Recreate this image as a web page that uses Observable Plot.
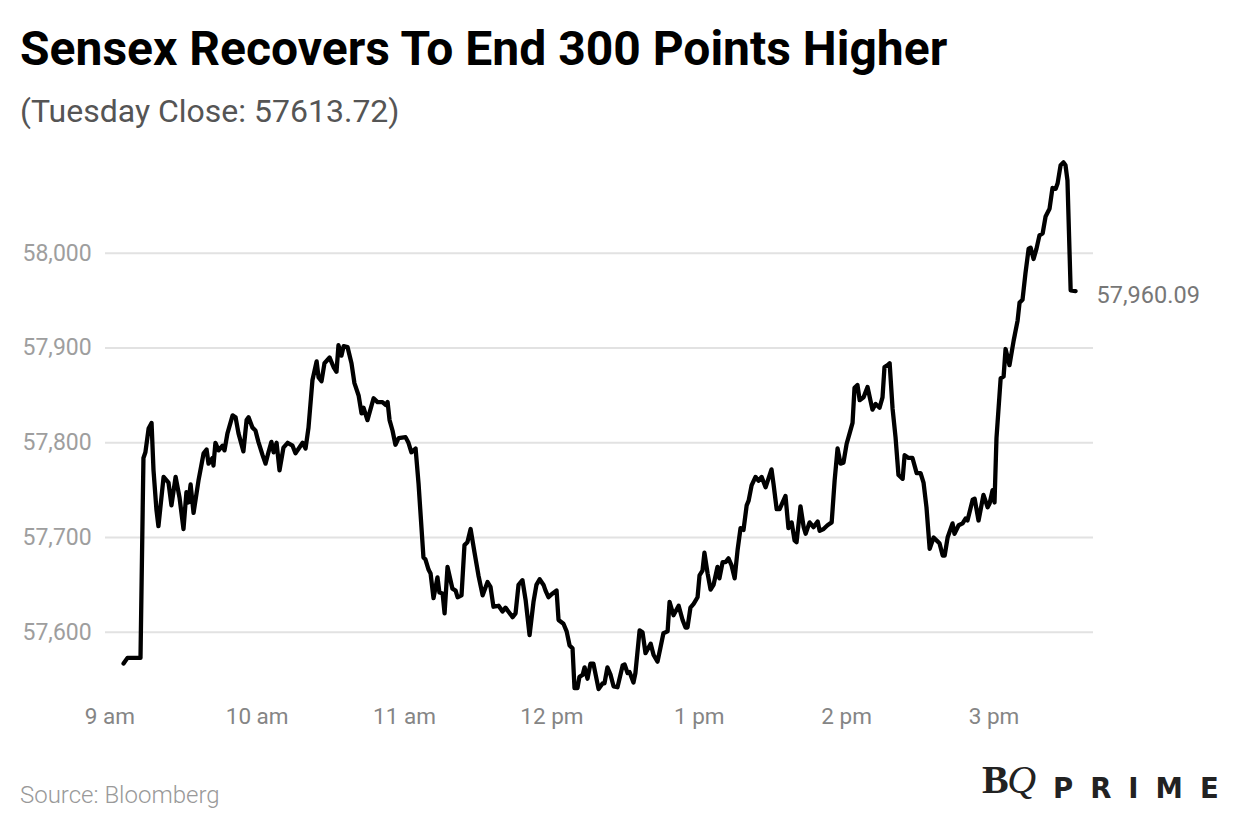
<!DOCTYPE html>
<html>
<head>
<meta charset="utf-8">
<script src="https://cdn.jsdelivr.net/npm/d3@7"></script>
<script src="https://cdn.jsdelivr.net/npm/@observablehq/plot@0.6"></script>
<style>
  html, body { margin: 0; padding: 0; background: #fff; width: 1240px; height: 840px; overflow: hidden; }
  body { position: relative; font-family: Roboto, "Open Sans", sans-serif; }
  #title { position: absolute; left: 20px; top: 25px; font-size: 48px; font-weight: 700; color: #000; line-height: 1; white-space: nowrap; }
  #subtitle { position: absolute; left: 20px; top: 95px; font-size: 32px; font-weight: 400; color: #555; line-height: 1; white-space: nowrap; }
  #chart { position: absolute; left: 0; top: 150px; }
  #source { position: absolute; left: 20px; top: 783px; font-size: 24px; font-weight: 300; color: #999; line-height: 1; white-space: nowrap; }
  .logo { position: absolute; line-height: 1; white-space: nowrap; color: #222; }
  #bq { left: 982px; top: 760px; font-family: "Liberation Serif", "DejaVu Serif", serif; font-size: 40px; font-weight: 700; letter-spacing: -1.5px; }
  #bq i { font-style: italic; font-weight: 400; }
  #prime { left: 1053px; top: 775px; font-family: "DejaVu Sans", sans-serif; font-size: 27.5px; font-weight: 700; letter-spacing: 17px; }
</style>
</head>
<body>
<div id="title">Sensex Recovers To End 300 Points Higher</div>
<div id="subtitle">(Tuesday Close: 57613.72)</div>
<div id="chart"></div>
<div id="source">Source: Bloomberg</div>
<div id="bq" class="logo">B<i>Q</i></div>
<div id="prime" class="logo">PRIME</div>
<script>
// Minutes after 9:00 am
const minutes = [
  5.6, 7.2, 12.5, 13.7, 14.5, 15.8, 17.0, 17.8, 19.0, 19.8, 21.9, 23.9, 25.1, 26.8, 28.4, 30.0, 31.2, 32.0, 32.9, 34.1,
  36.1, 38.2, 39.4, 40.2, 41.8, 42.2, 43.0, 44.3, 45.9, 46.7, 47.9, 50.0, 51.2, 52.4, 54.4, 55.7, 56.5, 58.1, 59.3, 60.5,
  62.2, 63.4, 64.6, 65.8, 66.7, 67.9, 69.1, 70.7, 72.4, 74.4, 75.6, 77.2, 78.5, 79.7, 80.9, 82.5, 84.2, 85.0, 86.2, 87.4,
  89.5, 91.1, 92.3, 93.1, 94.3, 95.2, 96.8, 98.4, 99.6, 101.3, 102.5, 103.3, 104.9, 107.4, 109.0, 111.0, 112.3, 113.1, 113.9, 115.1,
  116.3, 117.6, 120.4, 121.6, 122.8, 124.5, 125.7, 127.7, 128.5, 129.8, 130.6, 131.8, 133.4, 134.2, 135.5, 136.3, 137.5, 139.5, 140.8, 141.6,
  143.2, 144.4, 145.6, 146.9, 148.5, 150.1, 151.8, 153.8, 155.0, 156.2, 158.3, 159.9, 161.1, 164.0, 165.2, 166.4, 168.0, 169.3, 170.9, 172.5,
  173.7, 175.0, 176.6, 177.4, 178.6, 180.3, 181.9, 182.7, 184.7, 186.0, 187.2, 188.4, 189.2, 190.4, 191.2, 192.5, 193.3, 194.5, 195.7, 196.9,
  199.0, 200.6, 201.4, 202.6, 203.9, 205.1, 206.7, 208.8, 209.6, 210.8, 211.6, 213.2, 214.0, 215.7, 216.9, 218.1, 220.2, 221.4, 223.0, 224.2,
  225.4, 227.1, 227.9, 229.5, 231.6, 233.2, 234.4, 235.2, 236.4, 237.7, 239.3, 240.1, 241.3, 242.1, 243.4, 244.6, 245.8, 247.4, 248.2, 249.5,
  250.7, 251.9, 253.1, 254.4, 255.6, 256.8, 258.0, 259.3, 260.1, 261.3, 262.9, 264.1, 265.4, 267.0, 269.4, 270.2, 271.5, 272.7, 275.1, 276.3,
  277.6, 278.8, 279.6, 281.2, 282.5, 283.3, 284.9, 286.5, 288.2, 289.0, 290.6, 292.2, 293.9, 295.1, 296.3, 297.5, 298.7, 300.0, 301.2, 302.4,
  303.2, 304.4, 305.3, 306.9, 308.5, 310.5, 311.8, 313.4, 314.6, 315.4, 316.7, 317.5, 318.7, 319.9, 321.1, 322.8, 323.6, 325.2, 326.8, 328.5,
  330.1, 331.3, 332.5, 333.8, 335.4, 337.0, 337.8, 339.1, 339.9, 341.1, 343.1, 343.9, 345.6, 347.2, 348.4, 349.2, 351.3, 352.1, 353.7, 355.7,
  357.4, 358.2, 359.4, 360.2, 361.0, 362.7, 363.9, 364.7, 366.3, 368.0, 369.6, 370.4, 371.6, 372.8, 374.1, 374.9, 376.1, 377.3, 378.5, 379.8,
  381.0, 382.6, 383.8, 385.1, 385.9, 387.1, 388.3, 389.1, 389.9, 391.2, 393.2
];
const values = [
  57567, 57573, 57573, 57784, 57790, 57815, 57821, 57771, 57729, 57712, 57764, 57758, 57734, 57764, 57742, 57709, 57748, 57737, 57756, 57726,
  57760, 57789, 57793, 57778, 57784, 57776, 57800, 57792, 57797, 57792, 57810, 57829, 57827, 57810, 57791, 57824, 57827, 57816, 57813, 57801,
  57787, 57778, 57790, 57801, 57790, 57800, 57771, 57795, 57800, 57797, 57789, 57795, 57800, 57794, 57816, 57866, 57886, 57869, 57865, 57884,
  57890, 57880, 57875, 57903, 57892, 57902, 57901, 57884, 57863, 57850, 57831, 57837, 57824, 57847, 57843, 57843, 57840, 57843, 57824, 57813,
  57798, 57805, 57806, 57800, 57790, 57794, 57757, 57679, 57677, 57666, 57662, 57636, 57658, 57642, 57641, 57620, 57669, 57646, 57644, 57637,
  57639, 57692, 57695, 57709, 57684, 57660, 57639, 57653, 57648, 57627, 57628, 57622, 57626, 57616, 57620, 57650, 57655, 57634, 57597, 57632,
  57650, 57656, 57650, 57644, 57637, 57641, 57644, 57613, 57609, 57601, 57586, 57583, 57541, 57541, 57553, 57555, 57563, 57551, 57567, 57567,
  57540, 57546, 57546, 57563, 57555, 57543, 57542, 57565, 57566, 57557, 57558, 57547, 57557, 57602, 57600, 57578, 57588, 57576, 57569, 57584,
  57599, 57601, 57632, 57618, 57628, 57613, 57605, 57605, 57626, 57630, 57637, 57660, 57665, 57684, 57662, 57645, 57650, 57669, 57657, 57674,
  57674, 57678, 57671, 57657, 57687, 57710, 57708, 57734, 57739, 57755, 57764, 57760, 57764, 57753, 57772, 57757, 57730, 57730, 57744, 57710,
  57716, 57697, 57695, 57733, 57711, 57704, 57716, 57711, 57717, 57707, 57709, 57713, 57716, 57760, 57794, 57778, 57779, 57799, 57810, 57821,
  57858, 57861, 57845, 57848, 57859, 57835, 57841, 57837, 57848, 57880, 57882, 57884, 57836, 57806, 57766, 57762, 57787, 57784, 57784, 57768,
  57768, 57758, 57732, 57688, 57700, 57696, 57694, 57681, 57681, 57700, 57715, 57704, 57713, 57715, 57720, 57718, 57740, 57741, 57718, 57745,
  57732, 57736, 57750, 57737, 57805, 57868, 57870, 57899, 57882, 57908, 57929, 57948, 57951, 57979, 58005, 58006, 57994, 58005, 58019, 58021,
  58039, 58047, 58069, 58068, 58074, 58093, 58096, 58093, 58077, 57961, 57960.09
];
const tickHours = [9, 10, 11, 12, 13, 14, 15];
const tickLabels = ["9 am", "10 am", "11 am", "12 pm", "1 pm", "2 pm", "3 pm"];
const yTicks = [57600, 57700, 57800, 57900, 58000];
const closeLabel = "57,960.09";

const base = Date.UTC(2022, 8, 7, 9, 0);
const t = m => new Date(base + m * 60000);
const data = minutes.map((m, i) => ({t: t(m), v: values[i]}));
const last = data[data.length - 1];
const tickDates = tickHours.map(h => t((h - 9) * 60));

const chart = Plot.plot({
  width: 1240,
  height: 590,
  marginLeft: 105,
  marginRight: 147,
  marginTop: 10,
  marginBottom: 40,
  style: {fontFamily: "Roboto, sans-serif", fontSize: "22px", background: "transparent"},
  x: {type: "utc", domain: [t(-1.75), t(400.5)]},
  y: {domain: [57528, 58098]},
  marks: [
    Plot.ruleY(yTicks, {stroke: "#e2e2e2", strokeWidth: 2}),
    Plot.axisY({ticks: yTicks, tickSize: 0, tickPadding: 3, label: null, textAnchor: "start", dx: -80,
      tickFormat: d3.format(","), fill: "#9e9e9e", fontSize: 23}),
    Plot.axisX({ticks: tickDates, tickSize: 0, tickPadding: 8, label: null, fill: "#858585", fontSize: 22.5,
      tickFormat: d => tickLabels[tickHours.indexOf(d.getUTCHours())]}),
    Plot.line(data, {x: "t", y: "v", stroke: "#000", strokeWidth: 4.3, strokeLinejoin: "round"}),
    Plot.text([last], {x: "t", y: "v", text: () => closeLabel, textAnchor: "start", dx: 21, dy: 4, fill: "#777", fontSize: 23.5})
  ]
});
document.getElementById("chart").appendChild(chart);
</script>
</body>
</html>
